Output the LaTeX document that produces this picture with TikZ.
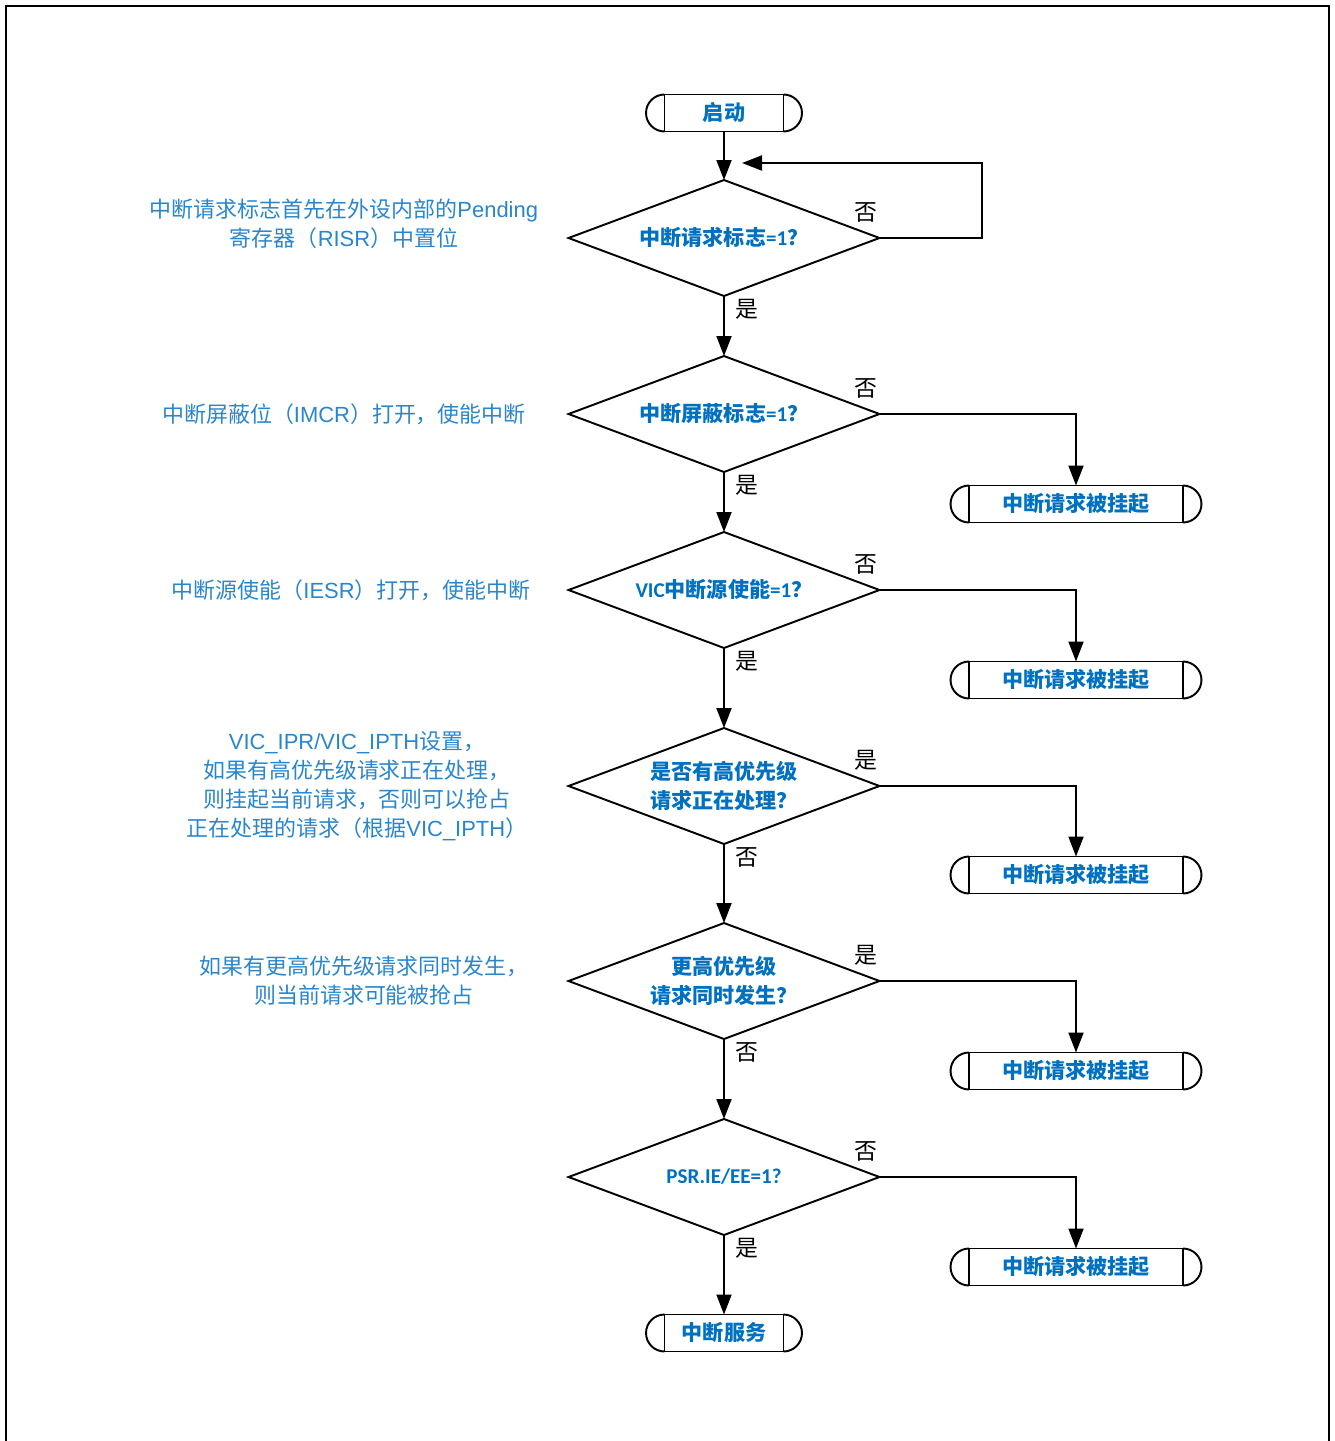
\documentclass[tikz,border=0pt]{standalone}
\usepackage{fontspec}
\setmainfont{Noto Sans CJK SC}
\newfontfamily\latf{Liberation Sans}
\newfontfamily\calf{Carlito}
\usetikzlibrary{shapes.geometric,arrows.meta,calc}
\definecolor{boxblue}{HTML}{0070C0}
\definecolor{noteblue}{HTML}{2A86CC}

\begin{document}
\begin{tikzpicture}
  [x=0.02cm,y=-0.02cm,line width=1.1pt,
   decision/.style={diamond,draw,aspect=2.68,inner sep=0pt,outer sep=0pt,minimum width=6.22cm,minimum height=2.32cm,
     align=center,text=boxblue,font=\fontsize{12}{16.5}\selectfont\bfseries},
   terminal/.style={rectangle,draw,inner sep=0pt,outer sep=0pt,minimum height=0.74cm,
     text=boxblue,font=\fontsize{12}{14}\selectfont\bfseries},
   note/.style={align=center,text=noteblue,font=\fontsize{12.5}{16.5}\selectfont},
   yesno/.style={inner sep=0pt,font=\fontsize{13}{15}\selectfont},
   flow/.style={-{Triangle[length=0.4cm,width=0.3cm]}}]
  \useasboundingbox (0,0) rectangle (1335,1441);
  \draw[line width=1.5pt] (6,1441) -- (6,6) -- (1329,6) -- (1329,1441);

  % main column
  \node[terminal,minimum width=2.38cm] (start) at (724,113) {启动};
  \node[decision] (d1) at (724,238)  {中断请求标志{\calf =1}？};
  \node[decision] (d2) at (724,414)  {中断屏蔽标志{\calf =1}？};
  \node[decision] (d3) at (724,590)  {{\calf VIC}中断源使能{\calf =1}？};
  \node[decision] (d4) at (724,786)  {是否有高优先级\\请求正在处理？};
  \node[decision] (d5) at (724,981)  {更高优先级\\请求同时发生？};
  \node[decision] (d6) at (724,1177) {{\calf PSR.IE/EE=1?}};
  \node[terminal,minimum width=2.38cm] (stop) at (724,1333) {中断服务};

  % pending boxes
  \node[terminal,minimum width=4.28cm] (p1) at (1076,504)  {中断请求被挂起};
  \node[terminal,minimum width=4.28cm] (p2) at (1076,680)  {中断请求被挂起};
  \node[terminal,minimum width=4.28cm] (p3) at (1076,875)  {中断请求被挂起};
  \node[terminal,minimum width=4.28cm] (p4) at (1076,1071) {中断请求被挂起};
  \node[terminal,minimum width=4.28cm] (p5) at (1076,1267) {中断请求被挂起};

  \foreach \n in {start,stop,p1,p2,p3,p4,p5}
    \draw (\n.north west) arc[start angle=90,end angle=270,radius=0.37cm]
          (\n.north east) arc[start angle=90,end angle=-90,radius=0.37cm];

  % notes on the left
  \node[note] (n1) at (344,224) {中断请求标志首先在外设内部的{\latf Pending}\\寄存器（{\latf RISR}）中置位};
  \node[note] (n2) at (344,414) {中断屏蔽位（{\latf IMCR}）打开，使能中断};
  \node[note] (n3) at (351,590) {中断源使能（{\latf IESR}）打开，使能中断};
  \node[note] (n4) at (357,786) {{\latf VIC\_IPR/VIC\_IPTH}设置，\\如果有高优先级请求正在处理，\\则挂起当前请求，否则可以抢占\\正在处理的请求（根据{\latf VIC\_IPTH}）};
  \node[note] (n5) at (364,981) {如果有更高优先级请求同时发生，\\则当前请求可能被抢占};

  % connectors
  \coordinate (loop) at (982,163);
  \coordinate (back) at (742,163);
  \draw[flow] (start) -- (d1);
  \draw[flow] (d1.east) -| (loop) -- (back);
  \foreach \from/\to in {d1/d2,d2/d3,d3/d4,d4/d5,d5/d6,d6/stop}
    \draw[flow] (\from) -- (\to);
  \foreach \from/\to in {d2/p1,d3/p2,d4/p3,d5/p4,d6/p5}
    \draw[flow] (\from.east) -| (\to.north);

  % yes / no
  \foreach \n/\a/\b in {d1/否/是,d2/否/是,d3/否/是,d4/是/否,d5/是/否,d6/否/是} {
    \node[yesno] (\n-r) at ($(\n.east)+(-14,-26)$) {\a};
    \node[yesno] (\n-b) at ($(\n.south)+(23,13)$) {\b};
  }
\end{tikzpicture}
\end{document}
